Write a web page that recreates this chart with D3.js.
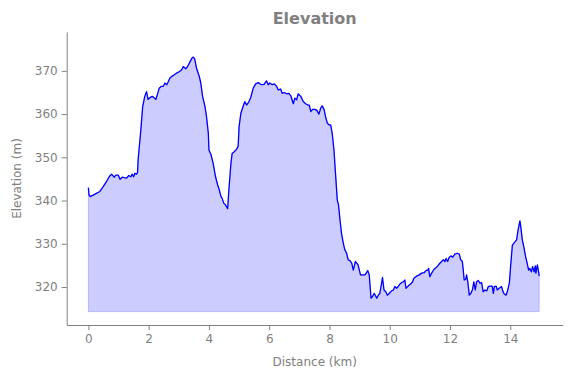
<!DOCTYPE html>
<html>
<head>
	<meta charset="UTF-8" />
	<title>Elevation</title>
	<script src="https://d3js.org/d3.v7.min.js"></script>
	<style>
		body { margin: 0; background: #fff; }
		text { font-family: "DejaVu Sans", sans-serif; fill: #808080; }
	</style>
</head>
<body>
	<svg id="chart" width="571" height="378"></svg>

	<script type="text/javascript">
	// profile points: distance (km) and elevation (m)
	const distKm = [0.00,0.02,0.06,0.22,0.38,0.49,0.60,0.71,0.77,0.86,0.91,0.99,1.05,1.12,1.19,1.27,1.34,1.41,1.45,1.50,
		1.54,1.60,1.63,1.65,1.69,1.74,1.80,1.87,1.93,1.98,2.04,2.12,2.18,2.24,2.30,2.35,2.41,2.48,2.54,2.60,
		2.65,2.70,2.78,2.85,2.93,3.01,3.09,3.15,3.23,3.29,3.35,3.43,3.48,3.53,3.59,3.68,3.73,3.79,3.87,3.92,
		3.98,4.00,4.07,4.14,4.22,4.29,4.33,4.40,4.44,4.49,4.55,4.62,4.67,4.73,4.77,4.84,4.92,4.97,5.00,5.06,
		5.13,5.19,5.25,5.33,5.39,5.47,5.55,5.64,5.69,5.75,5.83,5.91,5.97,6.02,6.10,6.17,6.25,6.30,6.38,6.43,
		6.50,6.58,6.65,6.72,6.80,6.85,6.91,6.96,7.05,7.13,7.21,7.28,7.33,7.38,7.44,7.52,7.59,7.65,7.71,7.76,
		7.82,7.87,7.93,7.99,8.04,8.09,8.15,8.20,8.26,8.30,8.35,8.40,8.46,8.51,8.57,8.62,8.68,8.74,8.79,8.86,
		8.95,9.03,9.18,9.27,9.32,9.38,9.43,9.48,9.52,9.57,9.62,9.67,9.73,9.76,9.81,9.87,9.92,9.98,10.06,10.12,
		10.17,10.23,10.28,10.34,10.39,10.45,10.50,10.54,10.61,10.69,10.76,10.80,10.89,10.98,11.06,11.14,11.20,11.26,11.29,11.33,
		11.39,11.47,11.56,11.64,11.72,11.78,11.83,11.87,11.92,11.97,12.03,12.09,12.16,12.24,12.31,12.35,12.41,12.44,12.47,12.52,
		12.55,12.59,12.64,12.69,12.75,12.79,12.84,12.88,12.94,12.99,13.05,13.10,13.16,13.22,13.27,13.33,13.40,13.44,13.47,13.53,
		13.57,13.63,13.71,13.75,13.79,13.86,13.90,13.97,14.01,14.07,14.16,14.21,14.26,14.32,14.35,14.40,14.45,14.51,14.56,14.61,
		14.65,14.70,14.74,14.79,14.83,14.85,14.90,14.94,14.96]
	const elevM = [343.0,341.3,340.9,341.5,342.1,343.2,344.4,345.7,346.1,345.4,345.9,345.9,344.9,345.4,345.3,345.2,345.8,345.5,346.1,345.5,
		346.3,346.1,346.5,349.4,352.5,356.3,361.7,364.1,365.2,363.4,363.8,364.1,363.8,363.4,364.8,366.0,366.4,366.4,367.2,366.8,
		367.5,368.3,368.8,369.1,369.5,369.8,370.2,371.0,370.5,371.0,371.8,372.9,373.2,372.7,370.6,368.7,367.2,364.1,361.7,359.4,
		355.6,351.7,350.6,348.6,345.5,343.6,342.8,340.9,340.5,339.4,339.0,338.1,343.2,348.6,350.9,351.3,351.9,352.6,357.1,360.2,
		361.7,362.9,362.1,362.9,363.9,366.0,367.0,367.3,367.0,366.8,366.9,367.7,366.8,367.2,366.8,367.0,366.4,365.6,365.8,364.8,
		365.0,364.7,364.8,364.2,362.4,363.7,363.3,364.7,364.1,362.9,362.4,362.1,362.1,360.6,361.1,361.1,360.8,360.0,361.4,361.9,
		361.1,359.4,357.9,357.5,357.5,355.6,351.7,346.3,340.1,339.0,335.5,332.4,330.1,328.6,327.8,326.3,326.1,325.5,323.9,325.9,
		325.1,322.8,322.8,323.8,322.8,317.4,317.8,318.5,318.1,317.4,318.1,318.5,320.9,322.2,319.3,318.9,318.1,318.5,319.1,319.3,
		320.1,319.7,320.1,320.7,321.0,321.2,321.6,319.7,320.2,320.7,321.2,322.0,322.5,322.8,323.2,323.3,323.8,323.9,324.3,322.4,
		323.2,324.1,324.6,325.3,325.9,326.3,325.9,326.6,325.9,326.8,327.2,326.9,327.6,327.8,327.6,326.4,325.9,323.9,321.6,321.8,
		322.8,321.2,318.1,318.5,319.5,321.2,319.3,321.2,321.5,320.9,321.0,318.9,319.3,319.1,320.1,320.2,320.2,318.5,320.1,320.2,
		319.3,319.7,320.1,319.1,318.5,318.1,318.9,320.9,324.7,329.7,330.5,330.9,333.2,335.3,333.9,330.9,329.3,327.0,325.5,323.9,
		324.3,323.5,324.7,323.5,324.9,323.2,325.1,323.5,322.5]
	const fillBase = 314.3
	const xTicks = [0, 2, 4, 6, 8, 10, 12, 14]
	const yTicks = [320, 330, 340, 350, 360, 370]

	const profile = distKm.map((d, i) => ({dist: d, elev: elevM[i]}))

	var svg = d3.select("#chart")
	gray = "#808080"

	//scale
	var xScale = d3.scaleLinear().domain([-0.72, 15.74]).range([66.7, 562.7])
	var yScale = d3.scaleLinear().domain([311.2, 379.0]).range([325, 32])

	//area + line
	var elevArea = d3.area()
		.x(d => xScale(d.dist))
		.y0(yScale(fillBase))
		.y1(d => yScale(d.elev))
	svg.append("path")
		.attr("d", elevArea(profile))
		.attr("fill", "rgba(0,0,255,0.2)")
		.attr("stroke", "rgba(0,0,255,0.2)")
		.attr("stroke-width", 1)

	var elevLine = d3.line()
		.x(d => xScale(d.dist))
		.y(d => yScale(d.elev))
	svg.append("path")
		.attr("d", elevLine(profile))
		.attr("fill", "none")
		.attr("stroke", "#0000ff")
		.attr("stroke-width", 1.3)
		.attr("stroke-linejoin", "round")

	//axis
	var xAxis = d3.axisBottom(xScale).tickValues(xTicks).tickSize(5).tickPadding(4).tickSizeOuter(0)
	var xG = svg.append("g").attr("transform", "translate(0,325)").call(xAxis)
	var yAxis = d3.axisLeft(yScale).tickValues(yTicks).tickSize(5).tickPadding(4).tickSizeOuter(0)
	var yG = svg.append("g").attr("transform", "translate(66.7,0)").call(yAxis)
	;[xG, yG].forEach(g => {
		g.select(".domain").attr("stroke", gray)
		g.selectAll(".tick line").attr("stroke", gray)
		g.selectAll(".tick text").attr("fill", gray).style("font-size", "12px").style("font-family", "DejaVu Sans")
	})

	//labels
	svg.append("text")
		.attr("x", 314.7).attr("y", 24)
		.attr("text-anchor", "middle")
		.style("font-size", "16px").style("font-weight", "bold")
		.text("Elevation")
	svg.append("text")
		.attr("x", 314.7).attr("y", 366)
		.attr("text-anchor", "middle")
		.style("font-size", "12px")
		.text("Distance (km)")
	svg.append("text")
		.attr("transform", "translate(21,178.5) rotate(-90)")
		.attr("text-anchor", "middle")
		.style("font-size", "12px")
		.text("Elevation (m)")
	</script>
</body>
</html>
